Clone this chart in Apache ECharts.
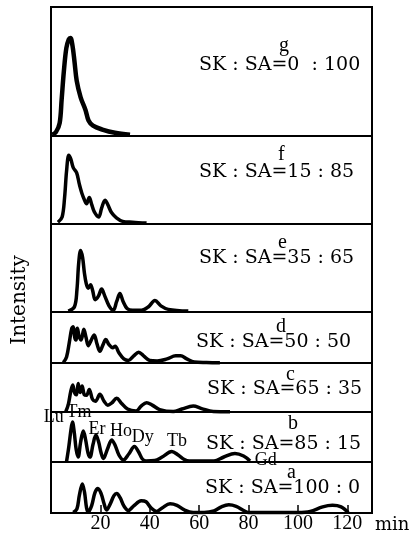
<!DOCTYPE html>
<html><head><meta charset="utf-8">
<script src="https://cdn.jsdelivr.net/npm/echarts@6/dist/echarts.min.js"></script>
<style>html,body{margin:0;padding:0;background:#fff}#c{width:412px;height:539px}</style>
</head><body><div id="c"></div>
<script>
// ---- data: [retention time (min), intensity (% of panel height)] ----
const panelNames = ['g','f','e','d','c','b','a'];
const ratios = ['SK : SA=0  : 100','SK : SA=15 : 85','SK : SA=35 : 65','SK : SA=50 : 50','SK : SA=65 : 35','SK : SA=85 : 15','SK : SA=100 : 0'];
const xTicks = [20,40,60,80,100,120];
const elements = ['Lu','Tm','Er','Ho','Dy','Tb','Gd'];

const curveG = [[0.5,1],[2,3],[3.5,10],[4.3,28],[5.2,50],[6.2,68],[7.2,75],[7.9,76],[8.7,70],[9.5,58],[10.4,43],[12,30],[14,20],[15.2,12],[17,8],[20.8,5],[25.9,2.5],[32,1]];
const curveF = [[2.8,2],[4.5,8],[5.5,30],[6.3,60],[7.2,78],[8,74],[9,64],[10.4,58],[11.5,45],[12.5,35],[13.6,27],[14.4,23],[15.5,30],[16.5,22],[17.5,14],[19.3,8],[20.5,18],[21.9,27],[23,22],[24.5,13],[26.5,7],[29,3],[33,2],[38.7,1]];
const curveE = [[7,1],[9.5,6],[10.5,25],[11.2,55],[12,70],[12.8,62],[13.5,45],[14.3,32],[15.1,27],[16,31],[16.9,24],[17.9,14],[19.2,18],[20.5,26],[21.8,18],[23.5,7],[25.2,2],[26.6,12],[27.9,21],[29.2,12],[30.8,4],[33,2],[36.7,2],[39.5,6],[42.1,13],[44.5,7],[47.5,3],[55.6,1]];
const curveD = [[5,1],[6.3,12],[7.4,40],[8.4,68],[9,71],[9.6,50],[10.1,45],[10.7,68],[11.4,52],[12.2,45],[13.3,66],[14.2,50],[15.1,34],[16.3,45],[17.5,55],[18.6,38],[19.8,23],[21,35],[22.2,46],[23.5,36],[25,30],[26,33],[27.5,20],[29.5,8],[31.3,5],[33.5,14],[35.5,21],[37.5,14],[40,5],[43,4],[47,8],[50.5,14],[52.5,14],[55,8],[58,2],[63,1],[68.4,0.5]];
const curveC = [[6,1],[7,15],[8,42],[8.8,55],[9.5,40],[10.3,35],[11,58],[11.8,40],[12.6,53],[13.5,35],[14.4,34],[15.5,46],[16.8,26],[18,22],[19.8,36],[21.5,22],[23,14],[24.5,18],[26.6,28],[28.5,18],[31,6],[34.4,2],[36.5,12],[38.7,19],[41,14],[44,5],[49.5,1],[53,6],[57.6,12],[61,7],[65.7,1],[72.5,0.5]];
const curveB = [[6.3,1],[7.2,30],[8.1,65],[8.7,80],[9.4,60],[10.2,25],[11,10],[12,40],[13.1,62],[14,45],[15,18],[15.8,10],[17,35],[18.2,54],[19.3,40],[20.3,18],[21.2,7],[22.8,25],[24.6,44],[26,33],[27.5,14],[29.3,4],[31.5,16],[33.8,31],[35.5,20],[37,6],[38.5,2],[42,3],[45,10],[48.9,21],[51.5,14],[54,5],[56,2],[62,2],[66,2],[70,10],[74.5,17],[78,12],[80.6,2]];
const curveA = [[9,1],[10.5,8],[11.5,35],[12.7,57],[13.6,40],[14.4,10],[15.1,2],[16.5,15],[17.8,40],[19,48],[20.3,38],[21.5,18],[22.5,6],[24,18],[25.5,34],[26.6,38],[28,30],[29.5,14],[31.3,5],[33.5,14],[36.5,24],[38.5,22],[40.5,10],[42.8,3],[45,10],[48.2,18],[51,15],[54,6],[57.6,1],[62,1],[66,4],[69,12],[72,16],[75,13],[78,5],[80,1],[90,1],[100,1],[105,3],[110,12],[114,15],[117.5,12],[120.4,1]];
const curves = [curveG,curveF,curveE,curveD,curveC,curveB,curveA];

// ---- layout ----
const panelTop = [7,136,224,312,363,412,462];
const panelH = [129,88,88,51,49,50,51];
const letterPos = [[285,48],[284,157],[284,245],[282,329],[292,377],[294,426],[293,475]];
const ratioPos = [[199,67],[199,174],[199,260],[196,344],[207,391],[206,446],[205,490]];
const elemAnchor = [[1.1,90],[11.3,100],[18.6,66],[28.3,62],[37.2,50],[51,42],[87,4]];

const SERIF = '"Liberation Serif", "DejaVu Serif", serif';
const WIDE = '"DejaVu Serif", serif';
const grids=[], xAxes=[], yAxes=[], series=[], graphics=[];
for (let i=0;i<7;i++){
  grids.push({left:51, width:321, top:panelTop[i], height:panelH[i], show:true, borderColor:'#000', borderWidth:2, containLabel:false});
  const last = i===6;
  xAxes.push({type:'value', gridIndex:i, min:0, max:130, interval:20, show:true,
    axisLine:{show:last, lineStyle:{color:'#000', width:2}},
    axisTick:{show:last, inside:true, length:8, lineStyle:{color:'#000', width:1.5}},
    axisLabel:{show:last, color:'#000', fontFamily:SERIF, fontSize:20, margin:1, showMinLabel:false, showMaxLabel:false,
      formatter: v => xTicks.indexOf(v)>=0 ? String(v) : ''},
    splitLine:{show:false}});
  yAxes.push({type:'value', gridIndex:i, min:0, max:100, show:false});
  const s = {type:'line', xAxisIndex:i, yAxisIndex:i, data:curves[i], showSymbol:false, smooth:0.35, clip:false,
    lineStyle:{color:'#000', width: i===0?4.5:3.5}, z:3};
  if (i===5){
    s.markPoint = {symbol:'circle', symbolSize:0, animation:false,
      label:{show:true, color:'#000', fontFamily:SERIF, fontSize:18, formatter: p=>p.name, position:'inside'},
      data: elements.map((e,k)=>({name:e, coord:elemAnchor[k]}))};
  }
  series.push(s);
  graphics.push({type:'text', left:letterPos[i][0]-6, top:letterPos[i][1]-12, style:{text:panelNames[i], fill:'#000', font:'20px '+SERIF}});
  graphics.push({type:'text', left:ratioPos[i][0], top:ratioPos[i][1]-11, style:{text:ratios[i], fill:'#000', font:'19px '+WIDE}});
}
graphics.push({type:'text', left:375, top:516, style:{text:'min', fill:'#000', font:'18px '+WIDE}});
graphics.push({type:'text', x:20, y:300, rotation:Math.PI/2, style:{text:'Intensity', fill:'#000', font:'20px '+WIDE, textAlign:'center', textVerticalAlign:'middle'}});

const chart = echarts.init(document.getElementById('c'), null, {renderer:'canvas'});
chart.setOption({animation:false, grid:grids, xAxis:xAxes, yAxis:yAxes, series:series, graphic:graphics});
</script></body></html>
